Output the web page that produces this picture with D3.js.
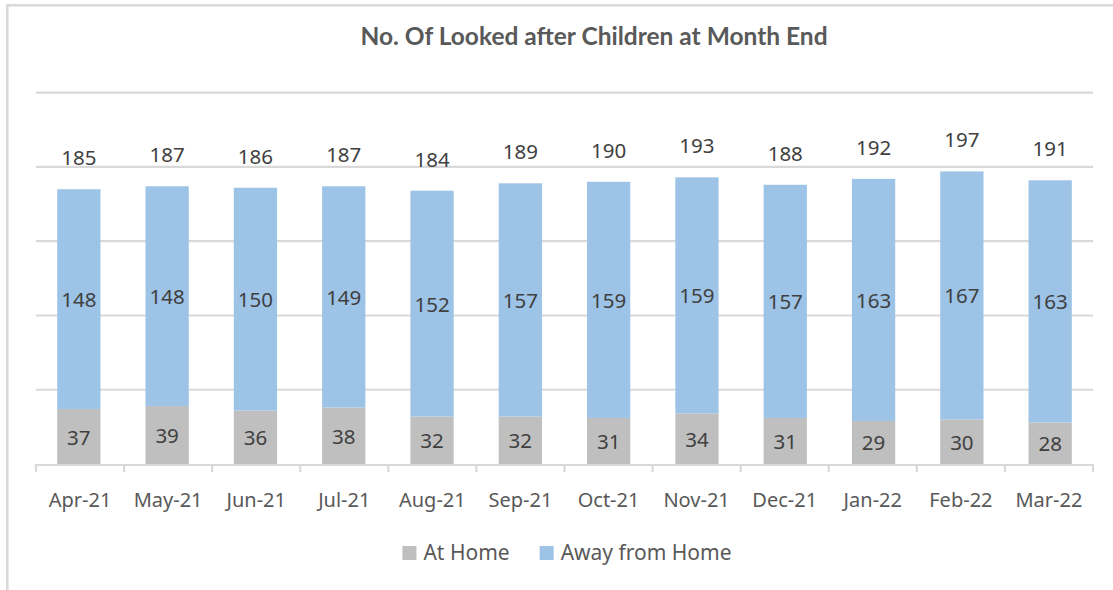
<!DOCTYPE html>
<html>
<head>
<meta charset="utf-8">
<script src="https://cdn.jsdelivr.net/npm/d3@7"></script>
<style>
  body { margin: 0; background: #fff; }
  svg text { font-family: "Noto Sans", sans-serif; }
</style>
</head>
<body>
<div id="chart"></div>
<script>
// Données
const months = ["Apr-21", "May-21", "Jun-21", "Jul-21", "Aug-21", "Sep-21",
                "Oct-21", "Nov-21", "Dec-21", "Jan-22", "Feb-22", "Mar-22"];
const atHome = [37, 39, 36, 38, 32, 32, 31, 34, 31, 29, 30, 28];
const awayFromHome = [148, 148, 150, 149, 152, 157, 159, 159, 157, 163, 167, 163];
const totals = [185, 187, 186, 187, 184, 189, 190, 193, 188, 192, 197, 191];
const yTicks = [0, 50, 100, 150, 200, 250];
const seriesNames = ["At Home", "Away from Home"];

const colors = { "At Home": "#bfbfbf", "Away from Home": "#9dc3e6" };

const W = 1113, H = 590;
const plotLeft = 36, plotRight = 1093, plotTop = 92.7, plotBottom = 464;

const svg = d3.select("#chart").append("svg")
  .attr("width", W).attr("height", H);

// Cadre du graphique
svg.append("rect")
  .attr("x", 7.3).attr("y", 5.3)
  .attr("width", W + 20).attr("height", H + 20)
  .attr("fill", "none").attr("stroke", "#d9d9d9").attr("stroke-width", 2.5);

// Titre
svg.append("text")
  .attr("x", 594).attr("y", 45)
  .attr("text-anchor", "middle")
  .style("font-family", "Lato, sans-serif")
  .style("font-weight", "bold")
  .style("font-size", "24.5px")
  .attr("fill", "#595959")
  .text("No. Of Looked after Children at Month End");

// Échelles
const x = d3.scaleBand().domain(months).range([plotLeft, plotRight]).paddingInner(0.51).paddingOuter(0.24);
const xTick = d3.scaleBand().domain(months).range([plotLeft, plotRight]);
const y = d3.scaleLinear().domain([0, 250]).range([plotBottom, plotTop]);

// Grille
svg.append("g").selectAll("line")
  .data(yTicks.filter(d => d > 0))
  .join("line")
  .attr("x1", plotLeft).attr("x2", plotRight)
  .attr("y1", d => y(d)).attr("y2", d => y(d))
  .attr("stroke", "#d9d9d9").attr("stroke-width", 2.2);

// Barres empilées
const rows = months.map((m, i) => ({ month: m, "At Home": atHome[i], "Away from Home": awayFromHome[i] }));
const stack = d3.stack().keys(seriesNames)(rows);

const layers = svg.append("g").selectAll("g")
  .data(stack)
  .join("g")
  .attr("fill", d => colors[d.key]);

layers.selectAll("rect")
  .data(d => d)
  .join("rect")
  .attr("x", d => x(d.data.month))
  .attr("width", x.bandwidth())
  .attr("y", d => y(d[1]))
  .attr("height", d => y(d[0]) - y(d[1]));

// Étiquettes des segments
layers.selectAll("text")
  .data(d => d.map(s => ({ s, key: d.key })))
  .join("text")
  .attr("x", d => x(d.s.data.month) + x.bandwidth() / 2)
  .attr("y", d => (y(d.s[0]) + y(d.s[1])) / 2 + 8)
  .attr("text-anchor", "middle")
  .attr("fill", "#404040")
  .style("font-size", "20.5px")
  .text(d => d.s.data[d.key]);

// Totaux au-dessus des barres
svg.append("g").selectAll("text")
  .data(totals)
  .join("text")
  .attr("x", (d, i) => x(months[i]) + x.bandwidth() / 2)
  .attr("y", d => y(d) - 24)
  .attr("text-anchor", "middle")
  .attr("fill", "#404040")
  .style("font-size", "20.5px")
  .text(d => d);

// Axe X
const axis = svg.append("g");
axis.append("line")
  .attr("x1", plotLeft).attr("x2", plotRight)
  .attr("y1", plotBottom + 1).attr("y2", plotBottom + 1)
  .attr("stroke", "#d9d9d9").attr("stroke-width", 2.2);
axis.selectAll(".tick")
  .data(months.map(m => xTick(m)).concat([plotRight]))
  .join("line")
  .attr("x1", d => d).attr("x2", d => d)
  .attr("y1", plotBottom).attr("y2", plotBottom + 8)
  .attr("stroke", "#d9d9d9").attr("stroke-width", 2.2);
axis.selectAll("text")
  .data(months)
  .join("text")
  .attr("x", d => xTick(d) + xTick.bandwidth() / 2)
  .attr("y", 507)
  .attr("text-anchor", "middle")
  .attr("fill", "#595959")
  .style("font-size", "20px")
  .text(d => d);

// Légende
const legend = svg.append("g");
const items = legend.selectAll("g")
  .data(seriesNames)
  .join("g");
items.append("rect")
  .attr("width", 14).attr("height", 14)
  .attr("fill", d => colors[d]);
items.append("text")
  .attr("x", 21).attr("y", 13.5)
  .attr("fill", "#595959")
  .style("font-size", "21px")
  .text(d => d);
const widths = [];
items.each(function() {
  widths.push(this.getBBox().width);
});
const gap = 30;
const totalW = d3.sum(widths) + gap * (widths.length - 1);
let pos = 567 - totalW / 2;
items.attr("transform", (d, i) => {
  const tx = pos;
  pos += widths[i] + gap;
  return `translate(${tx},546)`;
});
</script>
</body>
</html>
